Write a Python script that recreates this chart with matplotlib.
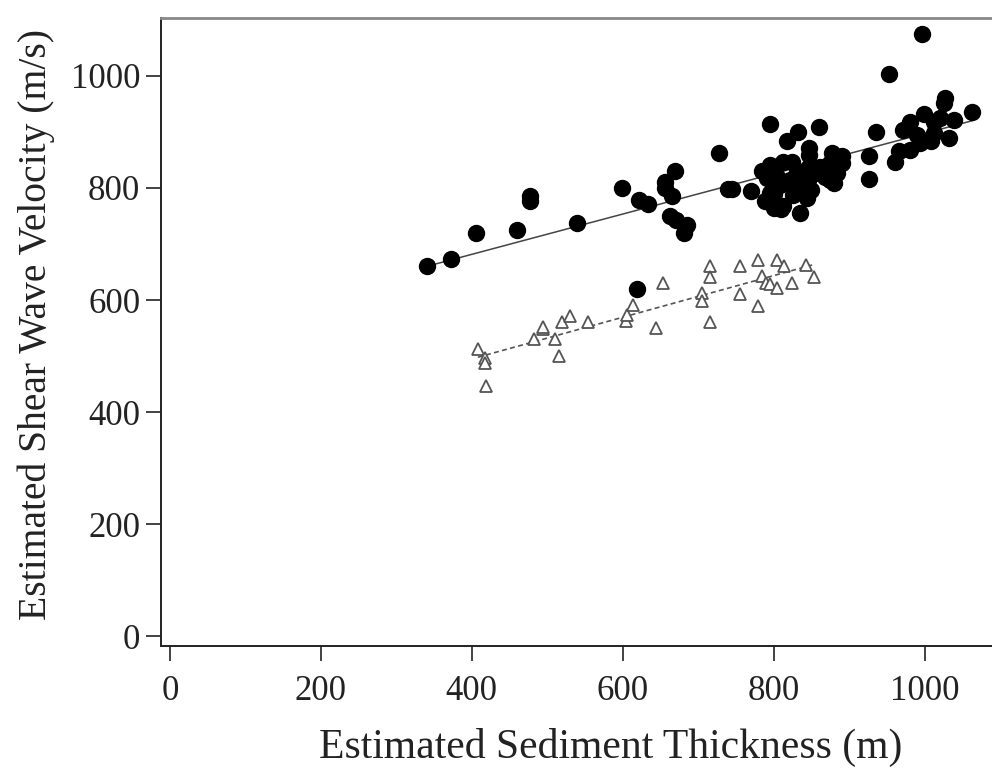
import matplotlib
matplotlib.use("Agg")
import matplotlib.pyplot as plt
import numpy as np

# sites with filled markers: sediment thickness (m) vs shear wave velocity (m/s)
thick_a = [340, 372, 405, 460, 477, 477, 539, 599, 619, 622, 634, 656, 656, 665, 669,
           663, 670, 685, 681, 727, 740, 745, 770, 795, 795, 813, 824, 791, 804, 822,
           809, 795, 789, 800, 813, 826, 838, 849, 846, 844, 855, 862, 875, 875, 884,
           890, 835, 846, 831, 818, 832, 847, 847, 860, 877, 891, 926, 926, 935, 953,
           997, 1026, 1027, 1063, 981, 999, 972, 1012, 1021, 1039, 1032, 1008, 994, 981,
           966, 961, 990, 1012, 800, 810, 785, 868, 880]
vel_a = [661, 673, 720, 725, 785, 776, 738, 800, 619, 778, 771, 811, 800, 785, 830,
         749, 743, 734, 719, 862, 798, 798, 795, 914, 841, 847, 847, 817, 820, 814,
         805, 791, 776, 764, 767, 788, 802, 797, 814, 782, 826, 838, 844, 814, 826,
         844, 755, 835, 829, 883, 899, 872, 859, 909, 862, 857, 857, 816, 899, 1004,
         1074, 952, 961, 936, 918, 932, 903, 918, 924, 921, 889, 883, 880, 868,
         865, 847, 895, 898, 790, 762, 830, 820, 808]

# sites with open markers
thick_b = [408, 418, 418, 419, 482, 494, 494, 510, 515, 520, 530, 554, 604, 605, 613,
           644, 653, 705, 705, 715, 715, 715, 755, 755, 779, 779, 784, 790, 795, 804,
           804, 814, 824, 843, 854]
vel_b = [512, 497, 488, 447, 530, 548, 552, 530, 500, 560, 571, 560, 562, 574, 591,
         550, 631, 612, 599, 661, 641, 560, 661, 611, 672, 590, 642, 631, 628, 672,
         621, 661, 631, 663, 641]

x_ticks = [0, 200, 400, 600, 800, 1000]
y_ticks = [0, 200, 400, 600, 800, 1000]

plt.rcParams["font.family"] = ["Liberation Serif", "DejaVu Serif"]

fig = plt.figure(figsize=(9.92, 7.68), dpi=100)
W, H = 992, 768
ax = fig.add_axes([161 / W, (H - 646) / H, (1000 - 161) / W, (646 - 18) / H])

ax.plot(thick_a, vel_a, "o", ms=11.5, color="black", mec="black", zorder=3)
ax.plot(thick_b, vel_b, "^", ms=9, mfc="white", mec="#555555", mew=1.3, zorder=3)

# least squares fits for each group
xa = np.array(thick_a); ya = np.array(vel_a)
ka = np.polyfit(xa, ya, 1)
xs = np.array([xa.min(), xa.max()])
ax.plot(xs, np.polyval(ka, xs), "-", color="#444444", lw=1.1, zorder=2)

xb = np.array(thick_b); yb = np.array(vel_b)
kb = np.polyfit(xb, yb, 1)
xs = np.array([xb.min(), xb.max()])
ax.plot(xs, np.polyval(kb, xs), "--", color="#555555", lw=1.2, dashes=(3, 2), zorder=2)

ax.set_xlim(-12, 1100)
ax.set_ylim(-17, 1103)
ax.set_xticks(x_ticks)
ax.set_yticks(y_ticks)
ax.tick_params(axis="both", direction="out", length=11, width=1.2, labelsize=25,
               colors="#222222")
ax.tick_params(axis="x", pad=10)
ax.tick_params(axis="y", pad=4)
for s in ["left", "bottom"]:
    ax.spines[s].set_linewidth(1.4)
    ax.spines[s].set_color("#222222")
ax.spines["top"].set_linewidth(2)
ax.spines["top"].set_color("#888888")
ax.spines["right"].set_visible(False)

ax.set_xlabel("Estimated Sediment Thickness (m)", fontsize=30, color="#222222")
ax.set_ylabel("Estimated Shear Wave Velocity (m/s)", fontsize=28.5, color="#222222")
ax.xaxis.set_label_coords(0.536, -0.162)
ax.yaxis.set_label_coords(-0.149, 0.512)
ax.xaxis.label.set_va("center")
ax.yaxis.label.set_va("center")

fig.savefig("out.png", dpi=100)
